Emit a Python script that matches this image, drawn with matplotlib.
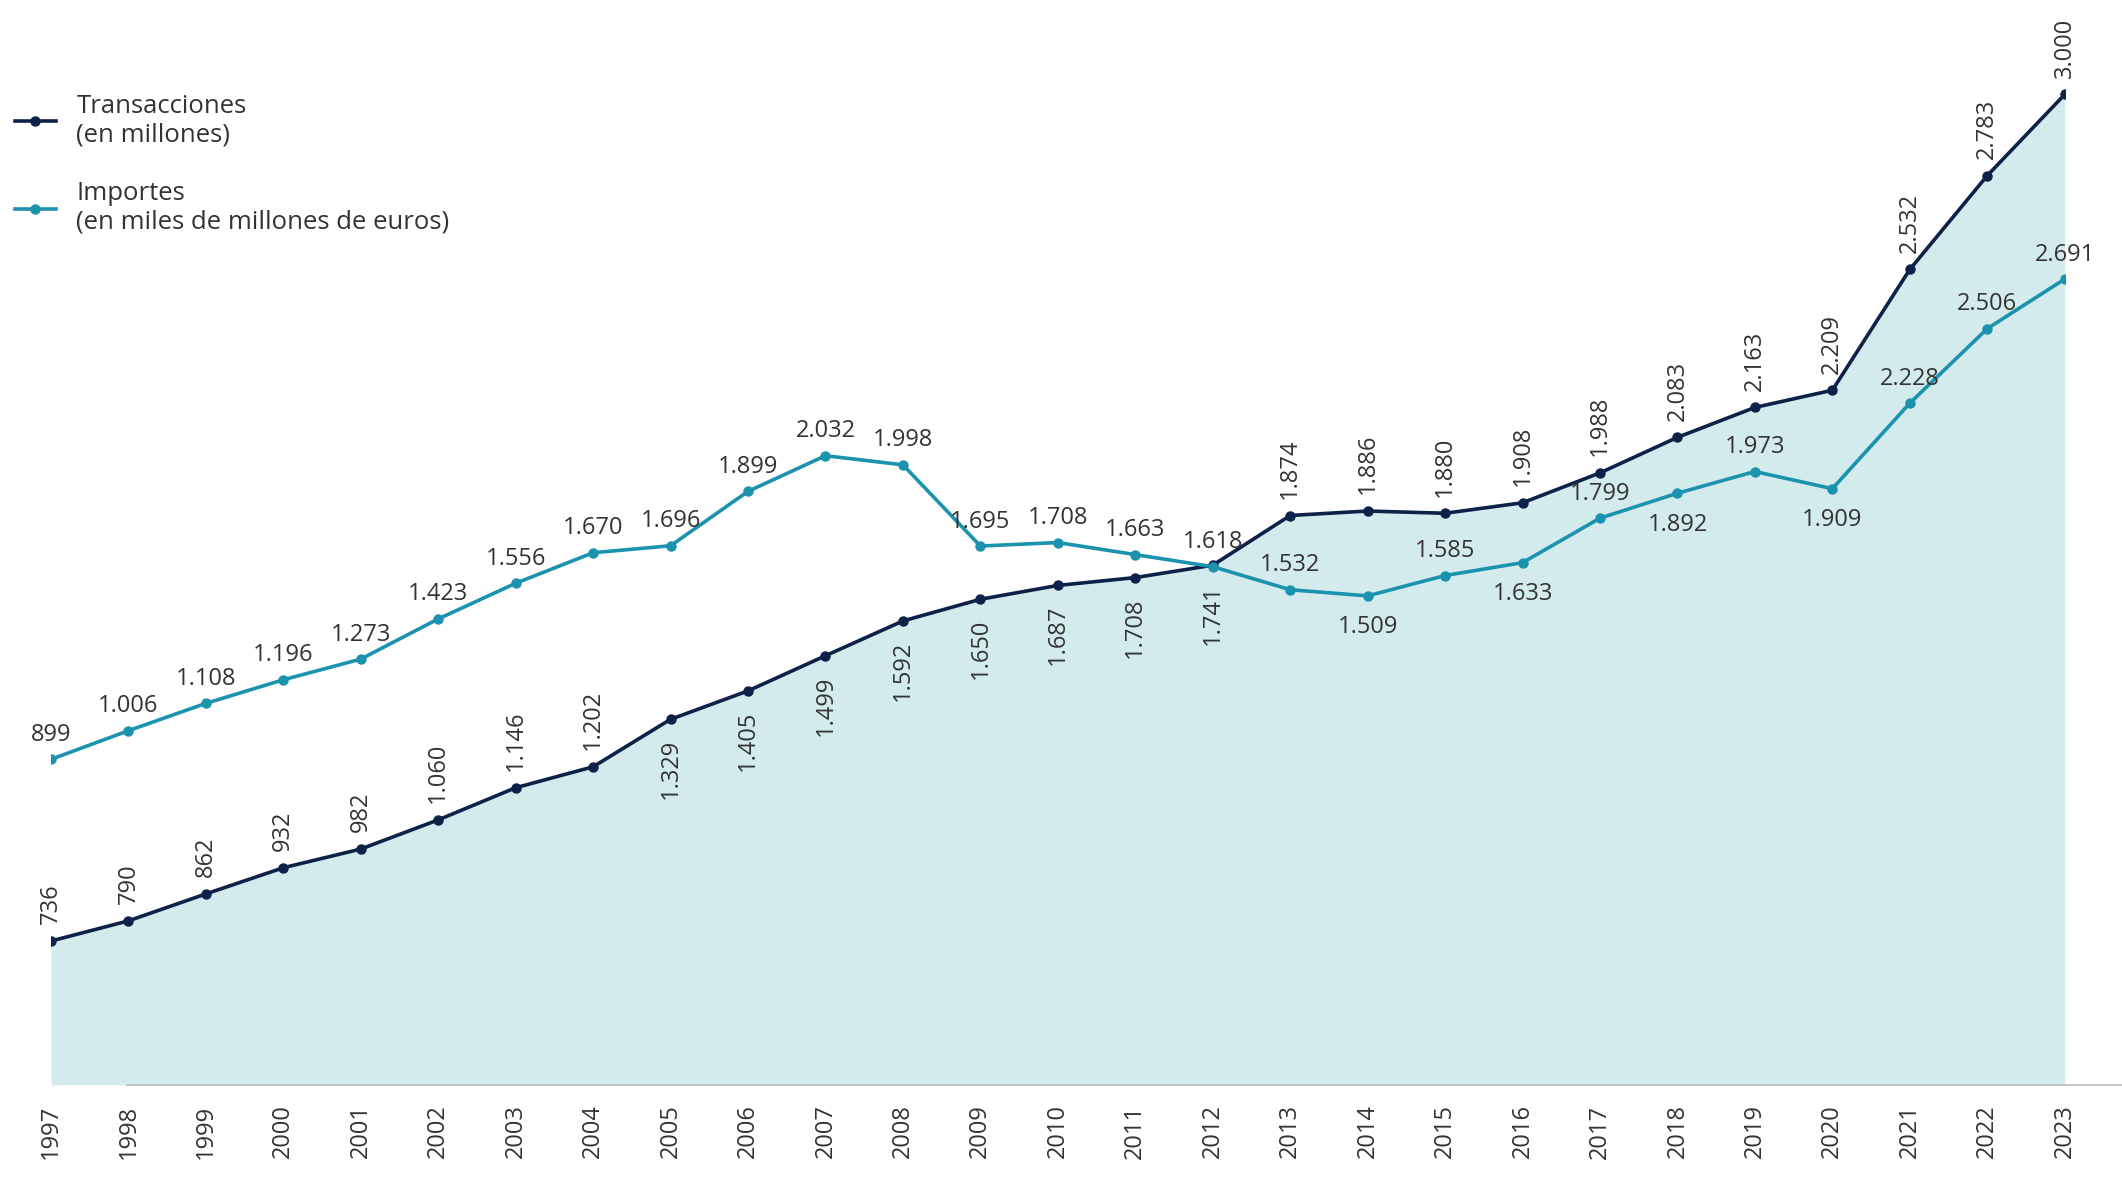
import matplotlib
matplotlib.use("Agg")
import matplotlib.pyplot as plt
from matplotlib.lines import Line2D

years = list(range(1997, 2024))
transacciones = [736, 790, 862, 932, 982, 1060, 1146, 1202, 1329, 1405, 1499, 1592, 1650, 1687, 1708, 1741,
                 1874, 1886, 1880, 1908, 1988, 2083, 2163, 2209, 2532, 2783, 3000]
importes = [899, 1006, 1108, 1196, 1273, 1423, 1556, 1670, 1696, 1899, 2032, 1998, 1695, 1708, 1663, 1618,
            1532, 1509, 1585, 1633, 1799, 1892, 1973, 1909, 2228, 2506, 2691]
trans_below = {2005, 2006, 2007, 2008, 2009, 2010, 2011, 2012}
imp_below = {2014, 2016, 2018, 2020}

def fmt(v):
    return f"{v:,}".replace(",", ".")

plt.rcParams['font.family'] = ['Open Sans', 'DejaVu Sans']
NAVY = '#0d2149'; TEAL = '#1b93ae'; FILL = '#d3ebed'; TXT = '#333333'

fig = plt.figure(figsize=(21.22, 11.8), dpi=100)
ax = fig.add_axes([0.024, 0.0805, 0.949, 0.874])
ax2 = ax.twinx()
ax2.set_position(ax.get_position())

ylo, yhi = 351, 3109
ax.set_ylim(ylo, yhi)
ax2.set_ylim(-316, 3532)
ax.set_xlim(1997, 2023)
ax.fill_between(years, transacciones, ylo, color=FILL, lw=0, zorder=1)
ax.plot(years, transacciones, color=NAVY, lw=2.6, marker='o', ms=6.5, zorder=3)
ax2.plot(years, importes, color=TEAL, lw=2.6, marker='o', ms=6.5, zorder=3)

for y, v in zip(years, transacciones):
    if y in trans_below:
        ax.annotate(fmt(v), (y, v), xytext=(0, -14), textcoords='offset points', rotation=90,
                    ha='center', va='top', fontsize=17, color=TXT)
    else:
        ax.annotate(fmt(v), (y, v), xytext=(0, 12), textcoords='offset points', rotation=90,
                    ha='center', va='bottom', fontsize=17, color=TXT)
for y, v in zip(years, importes):
    if y in imp_below:
        ax2.annotate(fmt(v), (y, v), xytext=(0, -14), textcoords='offset points',
                     ha='center', va='top', fontsize=17, color=TXT)
    else:
        ax2.annotate(fmt(v), (y, v), xytext=(0, 9), textcoords='offset points',
                     ha='center', va='bottom', fontsize=17, color=TXT)

for a in (ax, ax2):
    for s in a.spines.values():
        s.set_visible(False)
    a.set_yticks([])
ax.set_xticks(years)
ax.set_xticklabels([str(y) for y in years], rotation=90, fontsize=17, color=TXT)
ax.tick_params(axis='x', length=0, pad=14)
fig.add_artist(Line2D([0.06, 1.0], [0.0805, 0.0805], color='#bbbbbb', lw=1.2))

handles = [Line2D([], [], color=NAVY, lw=2.6, marker='o', ms=6.5),
           Line2D([], [], color=TEAL, lw=2.6, marker='o', ms=6.5)]
fig.legend(handles, ['Transacciones\n(en millones)', 'Importes\n(en miles de millones de euros)'],
           loc='upper left', bbox_to_anchor=(-0.004, 0.94), frameon=False, fontsize=18.5,
           handlelength=1.6, labelspacing=1.3, labelcolor=TXT)
fig.savefig('out.png', dpi=100)
